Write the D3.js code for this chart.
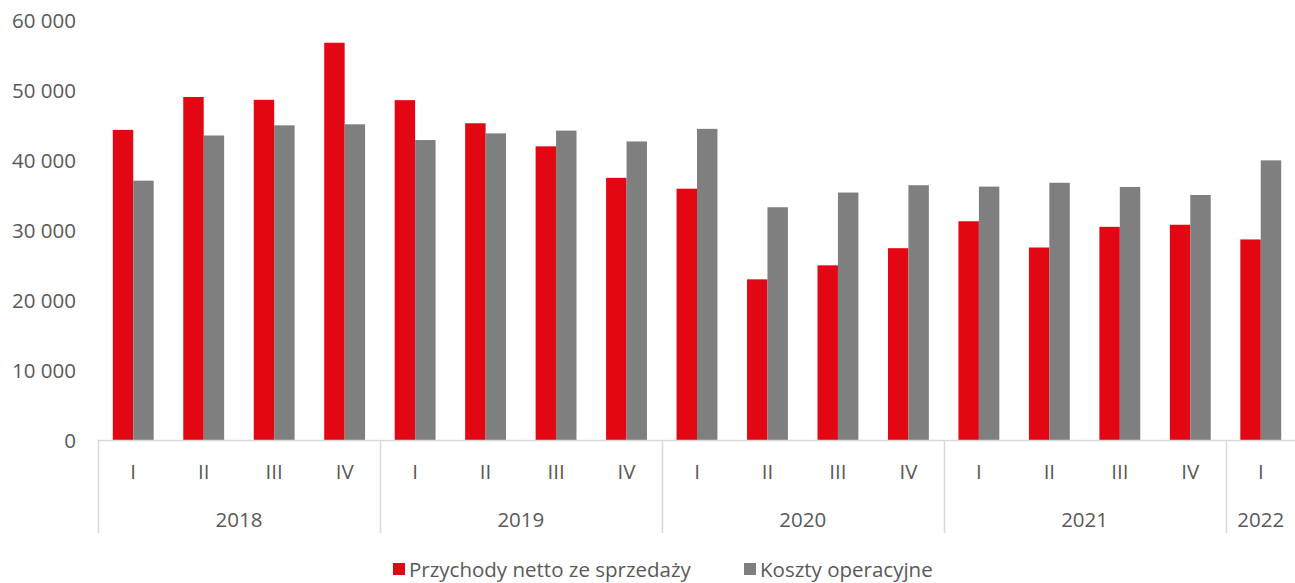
<!DOCTYPE html>
<html><head><meta charset="utf-8">
<script src="https://cdn.jsdelivr.net/npm/d3@7"></script>
<style>
html,body{margin:0;padding:0;background:#fff;}
svg{display:block;}
text{font-family:"Open Sans",Lato,sans-serif;fill:#595959;}
</style></head>
<body>
<svg id="chart" width="1295" height="583"></svg>
<script>
const years = ["2018","2019","2020","2021","2022"];
const quarters = ["I","II","III","IV","I","II","III","IV","I","II","III","IV","I","II","III","IV","I"];
const quarterYear = ["2018","2018","2018","2018","2019","2019","2019","2019","2020","2020","2020","2020","2021","2021","2021","2021","2022"];
const revenue = [44300,49000,48600,56750,48550,45250,41950,37450,35900,22950,24950,27400,31250,27500,30450,30750,28650];
const costs   = [37050,43500,44950,45100,42850,43800,44200,42650,44450,33250,35350,36400,36200,36750,36150,35000,39950];
const seriesNames = ["Przychody netto ze sprzedaży","Koszty operacyjne"];
const colors = ["#e30613","#7f7f7f"];
const yTicks = [0,10000,20000,30000,40000,50000,60000];

(function(){
const FS = "20.5px";
const svg = d3.select("#chart");
const mLeft = 98, mRight = 1296, mTop = 20, mBottom = 440;
const idx = d3.range(quarters.length);
const x = d3.scaleBand().domain(idx).range([mLeft,mRight]).paddingInner(0.42).paddingOuter(0.21);
const xs = d3.scaleBand().domain([0,1]).range([0,x.bandwidth()]);
const y = d3.scaleLinear().domain([0,60000]).range([mBottom,mTop]);
const step = (mRight-mLeft)/quarters.length;
const fmt = v => d3.format(",")(v).replace(/,/g," ");

const yAxis = d3.axisLeft(y).tickValues(yTicks).tickFormat(fmt).tickSize(0).tickPadding(0);
const gy = svg.append("g").attr("transform","translate(76,0)").call(yAxis);
gy.select(".domain").remove();
gy.selectAll("text").style("font-size",FS).style("font-family","'Open Sans',Lato,sans-serif").attr("fill","#595959").attr("dy","0.35em");

const data = [revenue, costs];
data.forEach((vals,s)=>{
  svg.append("g").selectAll("rect").data(vals).join("rect")
    .attr("x",(d,i)=>x(i)+xs(s))
    .attr("width",xs.bandwidth())
    .attr("y",d=>y(d))
    .attr("height",d=>y(0)-y(d))
    .attr("fill",colors[s]);
});

svg.append("line").attr("x1",mLeft).attr("x2",mRight).attr("y1",mBottom+0.5).attr("y2",mBottom+0.5)
  .attr("stroke","#d9d9d9").attr("stroke-width",1.5);

svg.append("g").selectAll("text").data(quarters).join("text")
  .attr("x",(d,i)=>mLeft+step*(i+0.5)).attr("y",479)
  .attr("text-anchor","middle").style("font-size",FS).text(d=>d);

const yearGroups = years.map(yr=>{
  const ii = idx.filter(i=>quarterYear[i]===yr);
  return {yr, start: ii[0], end: ii[ii.length-1]+1};
});
const bounds = Array.from(new Set(yearGroups.flatMap(g=>[g.start,g.end])));
svg.append("g").selectAll("line").data(bounds).join("line")
  .attr("x1",b=>Math.round(mLeft+step*b)+0.5).attr("x2",b=>Math.round(mLeft+step*b)+0.5)
  .attr("y1",mBottom).attr("y2",533)
  .attr("stroke","#d9d9d9").attr("stroke-width",1.5);
svg.append("g").selectAll("text").data(yearGroups).join("text")
  .attr("x",g=>mLeft+step*(g.start+g.end)/2).attr("y",527)
  .attr("text-anchor","middle").style("font-size",FS).text(g=>g.yr);

const legendX = [393,744];
const lg = svg.append("g");
seriesNames.forEach((n,i)=>{
  lg.append("rect").attr("x",legendX[i]).attr("y",563).attr("width",12).attr("height",12).attr("fill",colors[i]);
  lg.append("text").attr("x",legendX[i]+16).attr("y",577).style("font-size",FS).text(n);
});
})();
</script>
</body></html>
